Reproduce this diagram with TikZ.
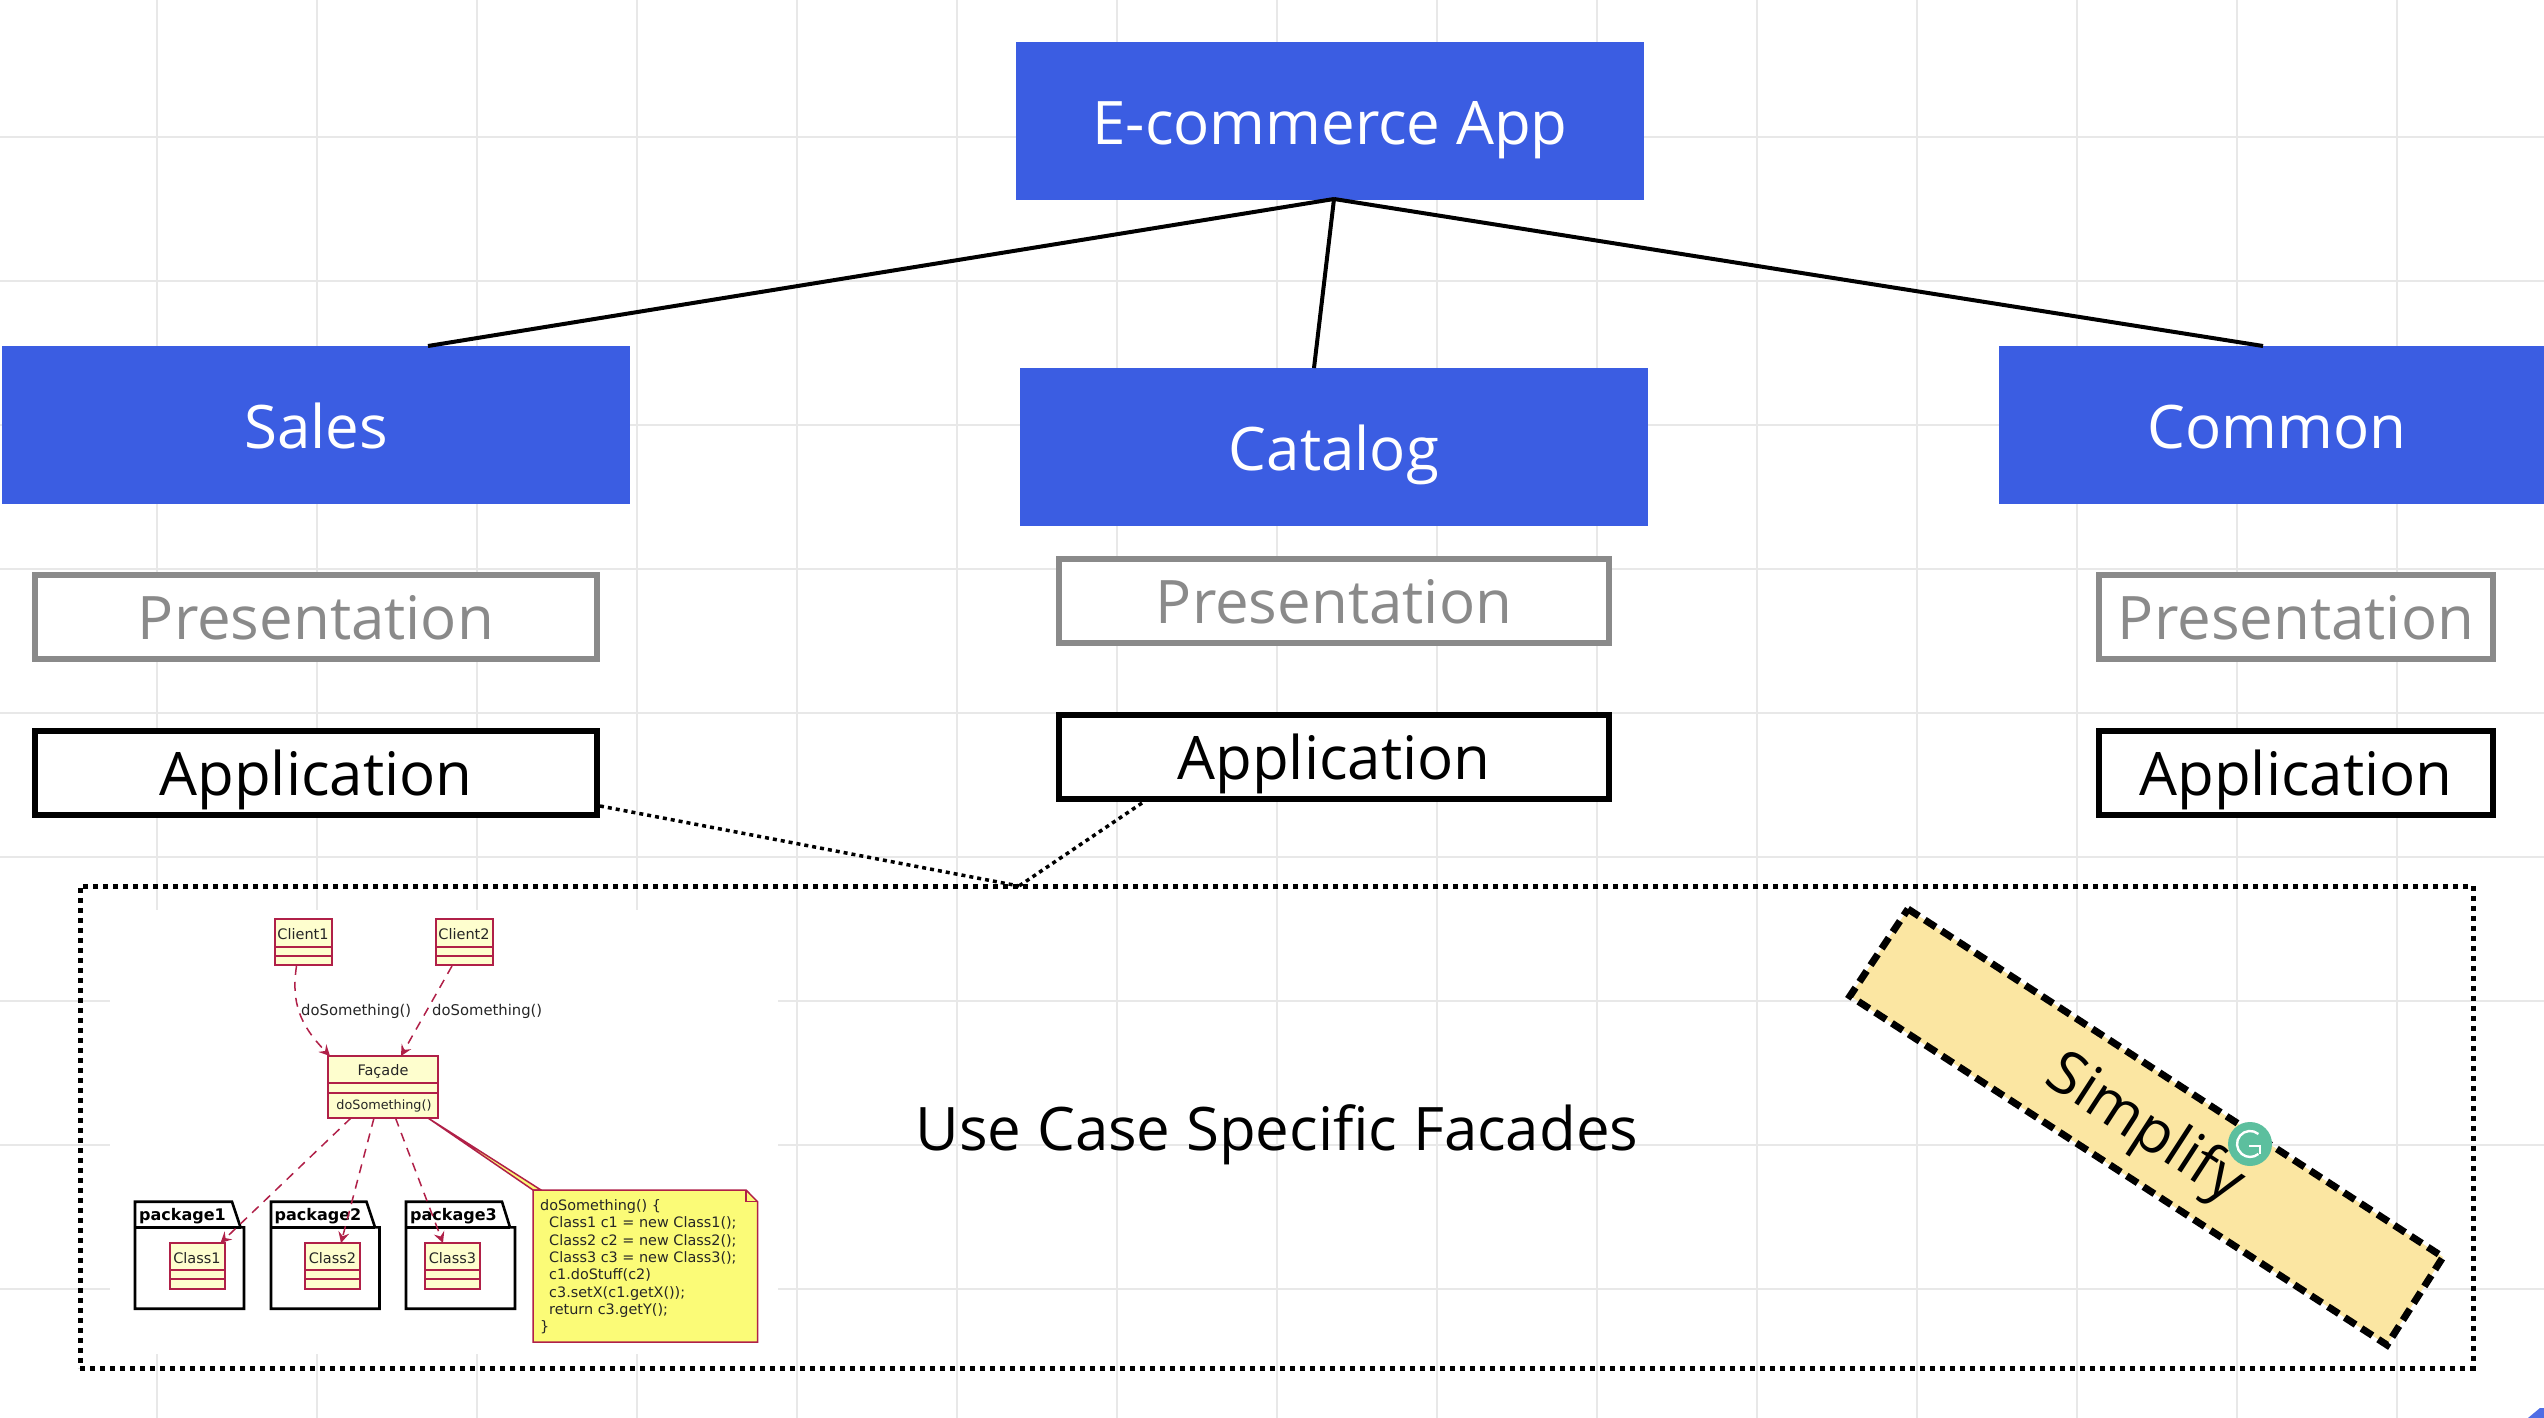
\documentclass[tikz,border=0pt]{standalone}
\usepackage{fontspec}
\setmainfont{Open Sans}
\newfontfamily\umlfont{DejaVu Sans}
\usetikzlibrary{arrows.meta,calc}
\definecolor{bluebox}{HTML}{3B5DE2}
\definecolor{gridc}{HTML}{E8E8E8}
\definecolor{graytx}{HTML}{8A8A8A}
\definecolor{uml}{HTML}{B02048}
\definecolor{umlfill}{HTML}{FEFECE}
\definecolor{notefill}{HTML}{FBFB77}
\definecolor{simp}{HTML}{FBE6A2}
\definecolor{gram}{HTML}{5CBF9E}
\tikzset{
  bluenode/.style={draw=none,fill=bluebox,text=white,font=\fontsize{60}{70}\selectfont,text height=47pt,text depth=0pt,minimum width=628pt,minimum height=158pt,inner sep=0,outer sep=0},
  layerbox/.style={draw=black,line width=6pt,fill=white,font=\fontsize{60}{70}\selectfont,text height=45.5pt,text depth=0pt,inner sep=0,outer sep=0},
  grayed/.style={layerbox,draw=graytx,text=graytx},
  link/.style={draw=black,line width=4pt},
  dotlink/.style={draw=black,line width=3.5pt,dash pattern=on 4pt off 4pt},
  umlclass/.style={draw=uml,line width=2pt,fill=umlfill,inner sep=0,outer sep=0},
  umlline/.style={draw=uml,line width=2pt},
  umltext/.style={font=\umlfont\fontsize{14.5}{16}\selectfont,text=black!85,inner sep=0},
  pkg/.style={draw=black,line width=2.6pt,fill=white,line join=miter},
  pkgtext/.style={font=\umlfont\bfseries\fontsize{16}{18}\selectfont,inner sep=0},
  umlarrow/.style={draw=uml,line width=1.5pt,dash pattern=on 9pt off 7pt,-{Stealth[length=11pt,width=11pt,inset=4pt,fill=uml]}},
}
\begin{document}
\begin{tikzpicture}[x=1pt,y=-1pt]
\useasboundingbox (0,0) rectangle (2544,1418);
\fill[white] (0,0) rectangle (2544,1418);
% grid
\foreach \gx in {157,317,477,637,797,957,1117,1277,1437,1597,1757,1917,2077,2237,2397}
  \draw[gridc,line width=2pt] (\gx,0) -- (\gx,1418);
\foreach \gy in {137,281,425,569,713,857,1001,1145,1289}
  \draw[gridc,line width=2pt] (0,\gy) -- (2544,\gy);
% corner speck
\fill[bluebox!90!white] (2528,1418) -- (2540,1408) -- (2544,1408) -- (2544,1418) -- cycle;

% main boxes
\node[bluenode] (ecom) at (1330,121) {E-commerce App};
\node[bluenode] (sales) at (316,425) {Sales};
\node[bluenode] (catalog) at (1334,447) {Catalog};
\node[bluenode,minimum width=557pt] (common) at (2277,425) {Common};

% layers
\node[grayed,minimum width=562pt,minimum height=84pt] (pres1) at (316,617) {Presentation};
\node[layerbox,minimum width=562pt,minimum height=84pt] (app1) at (316,772.5) {Application};
\node[grayed,minimum width=550pt,minimum height=84pt] (pres2) at (1334,601) {Presentation};
\node[layerbox,minimum width=550pt,minimum height=84pt] (app2) at (1334,757) {Application};
\node[grayed,minimum width=394pt,minimum height=84pt] (pres3) at (2296,617) {Presentation};
\node[layerbox,minimum width=394pt,minimum height=84pt] (app3) at (2296,772.5) {Application};

% connectors
\coordinate (ecomB) at (1334,199);
\coordinate (salesT) at (428,346);
\coordinate (catT) at (1314,368);
\coordinate (commonT) at (2263,346);
\draw[link] (ecomB) -- (salesT);
\draw[link] (ecomB) -- (catT);
\draw[link] (ecomB) -- (commonT);

% facade panel
\node[draw=black,line width=5pt,dash pattern=on 5pt off 5pt,minimum width=2393pt,minimum height=482pt,inner sep=0,outer sep=0] (panel) at (1276.5,1127) {};
\coordinate (panelT) at (1019,886);
\coordinate (app1B) at (600,806);
\coordinate (app2B) at (1142,803);
\draw[dotlink] (app1B) -- (panelT);
\draw[dotlink] (app2B) -- (panelT);
\node[font=\fontsize{60}{70}\selectfont,inner sep=0,text height=44pt,text depth=0pt] (usecase) at (1277,1128) {Use Case Specific Facades};

% UML image
\fill[white] (110,910) rectangle (778,1354);
\node[umlclass,minimum width=57pt,minimum height=46pt] (client1) at (303,942.3) {};
\draw[umlline] (274.5,946.7) -- (331.5,946.7) (274.5,955.7) -- (331.5,955.7);
\node[umltext] at (303,934) {Client1};
\node[umlclass,minimum width=57pt,minimum height=46pt] (client2) at (464,942.3) {};
\draw[umlline] (435.5,946.7) -- (492.5,946.7) (435.5,955.7) -- (492.5,955.7);
\node[umltext] at (464,934) {Client2};
\node[umlclass,minimum width=110pt,minimum height=62pt] (facade) at (383,1087) {};
\draw[umlline] (328,1083.3) -- (438,1083.3) (328,1093) -- (438,1093);
\node[umltext] at (383,1071.8) {Façade};
\node[umltext,font=\umlfont\fontsize{12.8}{15}\selectfont] at (384,1106) {doSomething()};

% packages
\draw[pkg] (135,1227.3) -- (135,1201.7) -- (232,1201.7) -- (240.5,1227.3) -- (244,1227.3) -- (244,1308.7) -- (135,1308.7) -- cycle;
\draw[pkg] (135,1227.3) -- (240.5,1227.3);
\node[pkgtext,anchor=west] (p1) at (139,1215.7) {package1};
\draw[pkg] (271,1227.3) -- (271,1201.7) -- (366.5,1201.7) -- (375,1227.3) -- (379.5,1227.3) -- (379.5,1308.7) -- (271,1308.7) -- cycle;
\draw[pkg] (271,1227.3) -- (375,1227.3);
\node[pkgtext,anchor=west] (p2) at (274.5,1215.7) {package2};
\draw[pkg] (406,1227.3) -- (406,1201.7) -- (502,1201.7) -- (510,1227.3) -- (515,1227.3) -- (515,1308.7) -- (406,1308.7) -- cycle;
\draw[pkg] (406,1227.3) -- (510,1227.3);
\node[pkgtext,anchor=west] (p3) at (410,1215.7) {package3};

\node[umlclass,minimum width=55pt,minimum height=46pt] (class1) at (197,1266) {};
\draw[umlline] (169.5,1270.3) -- (224.5,1270.3) (169.5,1279.3) -- (224.5,1279.3);
\node[umltext] at (197,1258) {Class1};
\node[umlclass,minimum width=55pt,minimum height=46pt] (class2) at (332.5,1266) {};
\draw[umlline] (305,1270.3) -- (360,1270.3) (305,1279.3) -- (360,1279.3);
\node[umltext] at (332.5,1258) {Class2};
\node[umlclass,minimum width=55pt,minimum height=46pt] (class3) at (452.5,1266) {};
\draw[umlline] (425,1270.3) -- (480,1270.3) (425,1279.3) -- (480,1279.3);
\node[umltext] at (452.5,1258) {Class3};

% UML arrows
\coordinate (cl1B) at (296.5,966);
\coordinate (cl2B) at (452,966);
\coordinate (faT1) at (330,1056);
\coordinate (faT2) at (401,1056);
\coordinate (faB1) at (351,1118);
\coordinate (faB2) at (374,1118);
\coordinate (faB3) at (395.5,1118);
\coordinate (faB4) at (428,1118);
\coordinate (k1T) at (220.5,1243);
\coordinate (k2T) at (341,1243);
\coordinate (k3T) at (443,1243);
\draw[umlarrow] (cl1B) .. controls (291,1003) and (300,1025) .. (faT1);
\draw[umlarrow] (cl2B) -- (faT2);
\draw[umlarrow] (faB1) -- (k1T);
\draw[umlarrow] (faB2) -- (k2T);
\draw[umlarrow] (faB3) -- (k3T);
\node[umltext,font=\umlfont\fontsize{14.8}{16}\selectfont,anchor=west] (lab1) at (301,1011.5) {doSomething()};
\node[umltext,font=\umlfont\fontsize{14.8}{16}\selectfont,anchor=west] (lab2) at (432,1011.5) {doSomething()};

% note
\fill[notefill,draw=uml,line width=1.5pt] (faB4) -- (541,1190) -- (533,1190) -- cycle;
\draw[uml,line width=1.5pt,fill=notefill] (533,1190) -- (746,1190) -- (757.5,1201.7) -- (757.5,1342) -- (533,1342) -- cycle;
\draw[uml,line width=1.5pt] (746,1190) -- (746,1201.7) -- (757.5,1201.7);
\node[umltext,font=\umlfont\fontsize{14.4}{17.3}\selectfont,anchor=north west,align=left] (note) at (540,1199.5) {doSomething() \{\\
\hspace*{9pt}Class1 c1 = new Class1();\\
\hspace*{9pt}Class2 c2 = new Class2();\\
\hspace*{9pt}Class3 c3 = new Class3();\\
\hspace*{9pt}c1.doStuff(c2)\\
\hspace*{9pt}c3.setX(c1.getX());\\
\hspace*{9pt}return c3.getY();\\
\}};

% simplify
\draw[fill=simp,draw=black,line width=7pt,dash pattern=on 13pt off 7pt] (1908,909) -- (2443,1257) -- (2387,1345) -- (1850,996) -- cycle;
\node[rotate=-33,inner sep=0,font=\fontsize{60}{70}\selectfont] (simplify) at (2144,1130) {Simplify};
% badge
\fill[gram] (2250,1144) circle (22pt);
\draw[white,line width=2.4pt] (2258.4,1134) arc[start angle=50,end angle=310,radius=13pt];
\draw[white,line width=2.4pt] (2249,1146) -- (2260,1146) -- (2260,1154);
\end{tikzpicture}
\end{document}
